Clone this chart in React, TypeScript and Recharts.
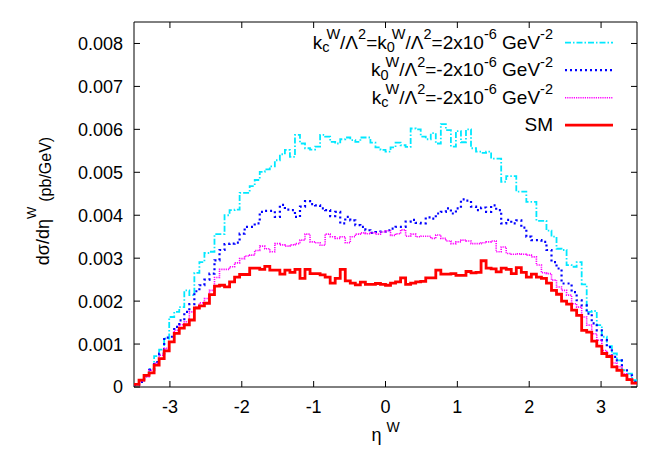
import React from 'react';
import { LineChart, Line, XAxis, YAxis, ReferenceArea } from 'recharts';

// ---------- data ----------
const ETA_MIN = -3.5;
const ETA_MAX = 3.5;
const xTicks = [-3, -2, -1, 0, 1, 2, 3];
const yTicks = [0, 0.001, 0.002, 0.003, 0.004, 0.005, 0.006, 0.007, 0.008];
const Y_MAX = 0.0085;

// SM
const smValues = [
  0.00006, 0.00016, 0.00027, 0.00033, 0.00051, 0.00066, 0.00084, 0.00105, 0.00125, 0.00137,
  0.00145, 0.00156, 0.00184, 0.00189, 0.00195, 0.00215, 0.00235, 0.00237, 0.00233, 0.00245,
  0.00256, 0.00262, 0.00262, 0.00277, 0.00277, 0.00274, 0.00281, 0.00272, 0.00272, 0.00263,
  0.00272, 0.00267, 0.00274, 0.00253, 0.00274, 0.00264, 0.00264, 0.00261, 0.00256, 0.00242,
  0.00253, 0.00274, 0.00247, 0.00242, 0.00238, 0.00244, 0.00239, 0.00239, 0.00241, 0.00239,
  0.00237, 0.00242, 0.00245, 0.00254, 0.00239, 0.00242, 0.00245, 0.00246, 0.00254, 0.00254,
  0.00272, 0.00263, 0.00263, 0.00264, 0.0026, 0.0026, 0.00269, 0.00266, 0.00267, 0.00294,
  0.00277, 0.00275, 0.00268, 0.00277, 0.00274, 0.00264, 0.00278, 0.00267, 0.00256, 0.00263,
  0.00256, 0.00253, 0.00242, 0.00225, 0.00216, 0.002, 0.00193, 0.00179, 0.00167, 0.00132,
  0.00128, 0.00107, 0.00095, 0.00078, 0.00071, 0.00047, 0.00039, 0.00027, 0.00017, 0.00009,
];

// kc = k0 = 2e-6
const bothPlusValues = [
  0.00005, 0.00015, 0.00028, 0.00042, 0.00072, 0.00087, 0.00113, 0.00163, 0.00175, 0.00186,
  0.00225, 0.00214, 0.00266, 0.00291, 0.00312, 0.00315, 0.00356, 0.00356, 0.004, 0.00412,
  0.00413, 0.00452, 0.00452, 0.00468, 0.00482, 0.00501, 0.00507, 0.00514, 0.00528, 0.00542,
  0.00552, 0.00536, 0.00587, 0.00567, 0.00556, 0.00553, 0.0056, 0.00587, 0.00583, 0.00571,
  0.00567, 0.00577, 0.00581, 0.00575, 0.00571, 0.00581, 0.00581, 0.00569, 0.00558, 0.00552,
  0.00548, 0.00558, 0.00569, 0.00563, 0.00559, 0.00602, 0.006, 0.00583, 0.00577, 0.00591,
  0.00567, 0.00612, 0.00598, 0.0056, 0.00596, 0.0057, 0.006, 0.00556, 0.00548, 0.00545,
  0.00548, 0.00532, 0.00532, 0.00478, 0.00491, 0.00491, 0.00455, 0.00455, 0.00431, 0.00431,
  0.00387, 0.00387, 0.00364, 0.0035, 0.00322, 0.00319, 0.00284, 0.0028, 0.00291, 0.00239,
  0.00175, 0.00177, 0.00144, 0.00117, 0.00095, 0.00078, 0.00062, 0.00039, 0.00031, 0.00016,
];

// k0 = -2e-6
const k0MinusValues = [
  0.00005, 0.00012, 0.00025, 0.0004, 0.00058, 0.00078, 0.00115, 0.00117, 0.0014, 0.00155,
  0.00175, 0.00193, 0.00223, 0.00237, 0.0025, 0.00264, 0.00295, 0.00319, 0.00333, 0.00334,
  0.00336, 0.00357, 0.00373, 0.00373, 0.00381, 0.00408, 0.0041, 0.0041, 0.00396, 0.00424,
  0.00413, 0.00412, 0.00396, 0.0042, 0.00433, 0.00426, 0.00423, 0.00416, 0.00412, 0.00398,
  0.00408, 0.00381, 0.00396, 0.00388, 0.00377, 0.00373, 0.00365, 0.00359, 0.00361, 0.00362,
  0.00365, 0.00369, 0.00373, 0.00373, 0.00385, 0.00389, 0.00382, 0.00381, 0.00395, 0.00392,
  0.00404, 0.00408, 0.00416, 0.00404, 0.00416, 0.00437, 0.00434, 0.0042, 0.00412, 0.00418,
  0.00408, 0.00423, 0.00412, 0.00381, 0.00389, 0.00381, 0.00388, 0.00371, 0.0035, 0.00342,
  0.00342, 0.00338, 0.00319, 0.00291, 0.00276, 0.00241, 0.00241, 0.00221, 0.00202, 0.0019,
  0.00171, 0.00148, 0.00132, 0.00109, 0.00093, 0.0007, 0.00062, 0.00039, 0.00027, 0.00012,
];

// kc = -2e-6
const kcMinusValues = [
  0.00006, 0.00014, 0.00024, 0.00039, 0.00055, 0.00074, 0.0009, 0.00105, 0.00132, 0.00145,
  0.00152, 0.00175, 0.00186, 0.00196, 0.00206, 0.00225, 0.00255, 0.00274, 0.00274, 0.0028,
  0.00289, 0.00299, 0.00305, 0.00307, 0.00318, 0.00328, 0.00322, 0.00315, 0.00334, 0.00331,
  0.00328, 0.00331, 0.00334, 0.00342, 0.00356, 0.00338, 0.00336, 0.0033, 0.00356, 0.0035,
  0.00346, 0.0035, 0.00336, 0.0035, 0.00356, 0.00359, 0.00357, 0.00359, 0.00356, 0.00361,
  0.00364, 0.00353, 0.00357, 0.00366, 0.00351, 0.00356, 0.0035, 0.00351, 0.00351, 0.00346,
  0.00354, 0.00346, 0.0034, 0.00334, 0.00338, 0.00342, 0.0034, 0.00334, 0.00334, 0.00336,
  0.00338, 0.0034, 0.00315, 0.00326, 0.00311, 0.00309, 0.0031, 0.00309, 0.00307, 0.00303,
  0.00284, 0.00266, 0.00264, 0.00249, 0.00233, 0.00225, 0.00214, 0.00194, 0.00186, 0.00163,
  0.00144, 0.00124, 0.00109, 0.00085, 0.00074, 0.00056, 0.00047, 0.00031, 0.00019, 0.00008,
];

// histogram rows: left bin edges, plus a closing row at the upper edge
const N_BINS = smValues.length;
const BIN_W = (ETA_MAX - ETA_MIN) / N_BINS;
const rows = Array.from({ length: N_BINS + 1 }, (_, i) => {
  const j = Math.min(i, N_BINS - 1);
  return {
    eta: ETA_MIN + i * BIN_W,
    both: bothPlusValues[j],
    k0m: k0MinusValues[j],
    kcm: kcMinusValues[j],
    sm: smValues[j],
  };
});

// ---------- layout ----------
const FONT = '"Liberation Sans", Arial, Helvetica, sans-serif';
const CHART_W = 648;
const CHART_H = 449;
const MARGIN = { top: 14, right: 19, left: 0, bottom: 0 };
const Y_AXIS_W = 126;
const X_AXIS_H = 70;
const PLOT_L = MARGIN.left + Y_AXIS_W;
const PLOT_R = CHART_W - MARGIN.right;
const PLOT_T = MARGIN.top;
const PLOT_B = CHART_H - MARGIN.bottom - X_AXIS_H;
const TICK_LEN = 6;
const FS = 18;

type Seg = { t: string; m: 'n' | 'sub' | 'sup' | 'stack'; s?: number; dx?: number };

const series = [
  {
    key: 'both', color: '#00e8ff', width: 1.8, dash: '6 2 1.5 2',
    label: [
      { t: 'k', m: 'n' }, { t: 'c', m: 'sub' }, { t: 'W', m: 'stack' }, { t: '/Λ', m: 'n' }, { t: '2', m: 'sup' },
      { t: '=k', m: 'n' }, { t: '0', m: 'sub' }, { t: 'W', m: 'stack' }, { t: '/Λ', m: 'n' }, { t: '2', m: 'sup' },
      { t: '=2x10', m: 'n' }, { t: '-6', m: 'sup' }, { t: ' GeV', m: 'n' }, { t: '-2', m: 'sup' },
    ] as Seg[],
  },
  {
    key: 'k0m', color: '#0000ff', width: 2.2, dash: '2 3',
    label: [
      { t: 'k', m: 'n' }, { t: '0', m: 'sub' }, { t: 'W', m: 'stack' }, { t: '/Λ', m: 'n' }, { t: '2', m: 'sup' },
      { t: '=-2x10', m: 'n' }, { t: '-6', m: 'sup' }, { t: ' GeV', m: 'n' }, { t: '-2', m: 'sup' },
    ] as Seg[],
  },
  {
    key: 'kcm', color: '#ff00ff', width: 1.6, dash: '1.2 1',
    label: [
      { t: 'k', m: 'n' }, { t: 'c', m: 'sub' }, { t: 'W', m: 'stack' }, { t: '/Λ', m: 'n' }, { t: '2', m: 'sup' },
      { t: '=-2x10', m: 'n' }, { t: '-6', m: 'sup' }, { t: ' GeV', m: 'n' }, { t: '-2', m: 'sup' },
    ] as Seg[],
  },
  {
    key: 'sm', color: '#ff0000', width: 2.8, dash: undefined,
    label: [{ t: 'SM', m: 'n' }] as Seg[],
  },
];

function RichText(props: {
  segs: Seg[]; x: number; y: number; anchor: 'start' | 'middle' | 'end';
  size: number; script: number; rise: number; drop: number; back?: number; transform?: string;
}) {
  const { segs, x, y, anchor, size, script, rise, drop, back = 5, transform } = props;
  let cur = 0;
  return (
    <text x={x} y={y} textAnchor={anchor} fontFamily={FONT} fontSize={size} fill="#000"
      transform={transform} style={{ whiteSpace: 'pre' }}>
      {segs.map((sg, i) => {
        let target = 0;
        let fs = size;
        let dx = sg.dx || 0;
        if (sg.m === 'sub') { target = drop; fs = script; }
        if (sg.m === 'sup') { target = -rise; fs = script; }
        if (sg.m === 'stack') { target = -rise; fs = script; dx -= back; }
        if (sg.s) fs = sg.s;
        const dy = target - cur;
        cur = target;
        return (
          <tspan key={i} dx={dx || undefined} dy={dy || undefined} fontSize={fs}>{sg.t}</tspan>
        );
      })}
    </text>
  );
}

const XTick = (p: any) => {
  const { x, y, payload } = p;
  return (
    <g>
      <line x1={x} x2={x} y1={PLOT_B} y2={PLOT_B - TICK_LEN} stroke="#000" strokeWidth={1} />
      <line x1={x} x2={x} y1={PLOT_T} y2={PLOT_T + TICK_LEN} stroke="#000" strokeWidth={1} />
      <text x={x} y={y} dy="0.71em" textAnchor="middle" fontFamily={FONT} fontSize={FS} fill="#000">
        {String(payload.value)}
      </text>
    </g>
  );
};

const YTick = (p: any) => {
  const { x, y, payload } = p;
  const v = payload.value as number;
  const label = v === 0 ? '0' : v.toFixed(3);
  return (
    <g>
      <line x1={PLOT_L} x2={PLOT_L + TICK_LEN} y1={y} y2={y} stroke="#000" strokeWidth={1} />
      <line x1={PLOT_R} x2={PLOT_R - TICK_LEN} y1={y} y2={y} stroke="#000" strokeWidth={1} />
      <text x={x} y={y} dy="0.36em" textAnchor="end" fontFamily={FONT} fontSize={FS} fill="#000">
        {label}
      </text>
    </g>
  );
};

const LEG_TEXT_X = 545;
const LEG_LINE_X1 = 557;
const LEG_LINE_X2 = 605;
const LEG_Y0 = 34.7;
const LEG_DY = 27.5;

export default function App() {
  return (
    <div style={{ position: 'relative', width: CHART_W, height: CHART_H, background: '#fff' }}>
      <LineChart width={CHART_W} height={CHART_H} data={rows} margin={MARGIN}>
        <XAxis dataKey="eta" type="number" domain={[ETA_MIN, ETA_MAX]} ticks={xTicks} interval={0}
          allowDataOverflow height={X_AXIS_H} tickLine={false} tickSize={0} tickMargin={13}
          axisLine={false} tick={XTick} />
        <YAxis type="number" domain={[0, Y_MAX]} ticks={yTicks} interval={0} allowDataOverflow
          width={Y_AXIS_W} tickLine={false} tickSize={0} tickMargin={11} axisLine={false} tick={YTick} />
        {series.map((s) => (
          <Line key={s.key} dataKey={s.key} type="stepAfter" stroke={s.color} strokeWidth={s.width}
            strokeDasharray={s.dash} dot={false} activeDot={false} isAnimationActive={false}
            strokeLinejoin="miter" strokeLinecap="butt" />
        ))}
        <ReferenceArea x1={ETA_MIN} x2={ETA_MAX} y1={0} y2={Y_MAX} fill="none" fillOpacity={0}
          stroke="#000" strokeWidth={1} strokeOpacity={1} ifOverflow="visible" />
      </LineChart>
      <svg width={CHART_W} height={CHART_H}
        style={{ position: 'absolute', left: 0, top: 0, pointerEvents: 'none' }}>
        {series.map((s, i) => {
          const yy = LEG_Y0 + i * LEG_DY;
          return (
            <g key={s.key}>
              <RichText segs={s.label} x={LEG_TEXT_X} y={yy + 6} anchor="end" size={19} script={14.5}
                rise={9.5} drop={3.5} back={3} />
              <line x1={LEG_LINE_X1} x2={LEG_LINE_X2} y1={yy} y2={yy} stroke={s.color}
                strokeWidth={s.width} strokeDasharray={s.dash} />
            </g>
          );
        })}
        <RichText
          segs={[{ t: 'η', m: 'n' }, { t: 'W', m: 'sup', dx: 5 }]}
          x={(PLOT_L + PLOT_R) / 2} y={433} anchor="middle" size={FS} script={14} rise={9} drop={3}
        />
        <RichText
          segs={[{ t: 'dσ/dη', m: 'n' }, { t: 'W', m: 'sup', s: 13 }, { t: '(pb/GeV)', m: 'sub', s: 16, dx: 5 }]}
          x={0} y={0} anchor="middle" size={FS} script={13} rise={13} drop={2}
          transform="translate(41,193) rotate(-90)"
        />
      </svg>
    </div>
  );
}
